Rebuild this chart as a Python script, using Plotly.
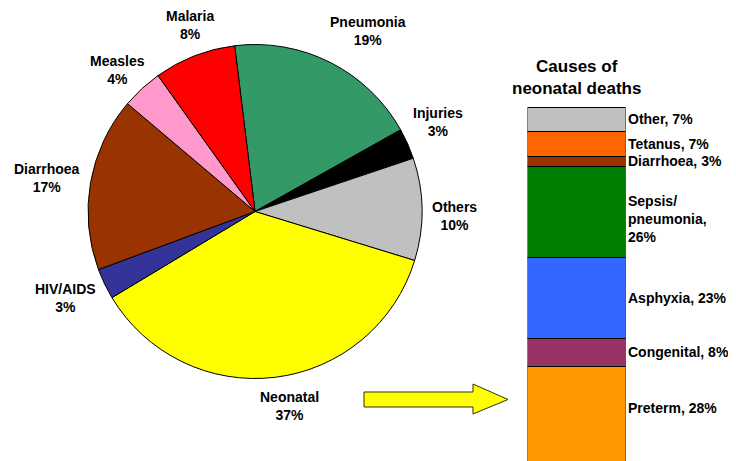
import plotly.graph_objects as go

W, H = 736, 461
OFF = 8  # page body margin offset

# ---- data ----
pie_labels = ["Pneumonia", "Injuries", "Others", "Neonatal", "HIV/AIDS", "Diarrhoea", "Measles", "Malaria"]
pie_values = [19, 3, 10, 37, 3, 17, 4, 8]
pie_colors = ["#339966", "#000000", "#C0C0C0", "#FFFF00", "#333399", "#993300", "#FF99CC", "#FF0000"]

bar_labels = ["Preterm", "Congenital", "Asphyxia", "Sepsis/<br>pneumonia,", "Diarrhoea", "Tetanus", "Other"]
bar_values = [28, 8, 23, 26, 3, 7, 7]
bar_colors = ["#FF9900", "#993366", "#3366FF", "#008000", "#993300", "#FF6600", "#C0C0C0"]

# label positions (pixel centres) for pie text
pie_label_pos = {
    "Pneumonia": (368, 31), "Injuries": (438, 122), "Others": (454, 216),
    "Neonatal": (289, 406), "HIV/AIDS": (65, 298), "Diarrhoea": (47, 178),
    "Measles": (117, 70), "Malaria": (190, 25),
}

FONT = "Liberation Sans, Arial, sans-serif"

def px(x):
    return (x - OFF) / W

def py(y):
    return 1 - (y - OFF) / H

fig = go.Figure()

# pie
cx, cy, r = 255, 211.5, 167
fig.add_trace(go.Pie(
    labels=pie_labels, values=pie_values, sort=False, direction="clockwise",
    rotation=-7, textinfo="none", hoverinfo="label+percent",
    marker=dict(colors=pie_colors, line=dict(color="#000000", width=1)),
    domain=dict(x=[px(cx - r), px(cx + r)], y=[py(cy + r), py(cy - r)]),
    showlegend=False,
))

# stacked bar
for lab, val, col in zip(bar_labels, bar_values, bar_colors):
    fig.add_trace(go.Bar(
        x=[0], y=[val], width=1, name=lab.replace("<br>", " "),
        marker=dict(color=col, line=dict(color="#000000", width=1)),
        xaxis="x2", yaxis="y2", showlegend=False, hoverinfo="name+y",
    ))

annotations = []
for lab, val in zip(pie_labels, pie_values):
    x0, y0 = pie_label_pos[lab]
    annotations.append(dict(
        x=px(x0), y=py(y0), xref="paper", yref="paper",
        text=f"<b>{lab}<br>{val}%</b>", showarrow=False,
        xanchor="center", yanchor="middle", align="center",
        font=dict(family=FONT, size=14, color="#000000"),
    ))

cum = 0
shifts = {"Preterm": 7, "Sepsis/<br>pneumonia,": -7}
for lab, val in zip(bar_labels, bar_values):
    mid = cum + val / 2
    cum += val
    annotations.append(dict(
        x=px(626), y=mid, xref="paper", yref="y2",
        text=f"<b>{lab}<br>{val}%</b>" if "<br>" in lab else f"<b>{lab}, {val}%</b>",
        showarrow=False, xanchor="left", yanchor="middle", align="left",
        yshift=shifts.get(lab, 0),
        font=dict(family=FONT, size=14, color="#000000"),
    ))

annotations.append(dict(
    x=px(576), y=py(77), xref="paper", yref="paper",
    text="<b>Causes of<br>neonatal deaths</b>", showarrow=False,
    xanchor="center", yanchor="middle", align="center",
    font=dict(family=FONT, size=17, color="#000000"),
))

# arrow
pts = [(364, 392), (473, 392), (473, 384), (508, 399.5), (473, 414), (473, 407), (364, 407)]
path = "M " + " L ".join(f"{px(a):.5f},{py(b):.5f}" for a, b in pts) + " Z"

top_px = 106.0 - OFF   # figure pixel of plot-area top
scale = 3.5
r1 = 102 + (107 - OFF - top_px) / scale
r0 = r1 - (H - top_px) / scale

fig.update_layout(
    width=W, height=H,
    margin=dict(l=0, r=0, t=0, b=0),
    paper_bgcolor="#FFFFFF", plot_bgcolor="rgba(0,0,0,0)",
    barmode="stack",
    xaxis2=dict(domain=[px(527.5), px(625.5)], range=[-0.5, 0.5], visible=False, anchor="y2", fixedrange=True),
    yaxis2=dict(domain=[0, 1 - top_px / H], range=[r0, r1], visible=False, anchor="x2", fixedrange=True),
    annotations=annotations,
    shapes=[dict(type="path", path=path, xref="paper", yref="paper",
                 fillcolor="#FFFF00", line=dict(color="#333300", width=1))],
    font=dict(family=FONT),
)

fig.write_html("out.html")
